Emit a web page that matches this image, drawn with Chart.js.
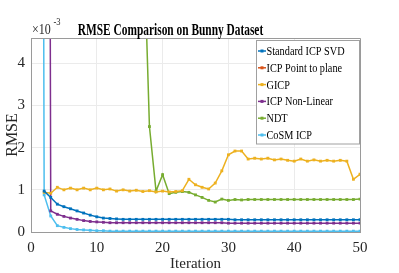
<!DOCTYPE html>
<html lang="en">
<head>
<meta charset="UTF-8">
<title>RMSE Comparison on Bunny Dataset</title>
<script src="https://cdn.jsdelivr.net/npm/chart.js@4.4.0/dist/chart.umd.min.js"></script>
<style>
  html, body { margin: 0; padding: 0; background: #fff; }
</style>
</head>
<body>
<canvas id="rmseChart" width="399" height="273"></canvas>

<script>
// RMSE values in units of 1e-3, iteration 1..50
const iterations = [1,2,3,4,5,6,7,8,9,10,11,12,13,14,15,16,17,18,19,20,21,22,23,24,25,
                    26,27,28,29,30,31,32,33,34,35,36,37,38,39,40,41,42,43,44,45,46,47,48,49,50];

const icpSvd = [null,0.97,0.82,0.66,0.60,0.55,0.50,0.45,0.40,0.36,0.33,0.32,0.31,0.30,0.30,0.30,0.30,0.30,0.30,0.30,0.30,0.30,0.30,0.30,0.30,
                0.30,0.30,0.30,0.30,0.30,0.29,0.29,0.29,0.29,0.29,0.29,0.29,0.29,0.29,0.29,0.29,0.29,0.29,0.29,0.29,0.29,0.29,0.29,0.29,0.29];
// point-to-plane series is not visible in the figure
const icpPlane = [];
const gicp = [null,0.94,0.92,1.06,1.00,1.04,1.00,1.04,1.00,1.04,1.00,1.02,0.97,1.00,0.97,0.99,0.96,0.98,0.95,0.97,0.95,0.96,0.98,1.25,1.12,
              1.06,1.02,1.16,1.45,1.83,1.92,1.92,1.73,1.75,1.73,1.75,1.71,1.73,1.70,1.68,1.73,1.68,1.71,1.68,1.70,1.68,1.70,1.68,1.25,1.37];
const icpNonLinear = [null,60,0.50,0.42,0.37,0.33,0.30,0.27,0.25,0.24,0.23,0.22,0.22,0.22,0.22,0.22,0.22,0.22,0.22,0.22,0.22,0.22,0.22,0.22,0.22,
                      0.22,0.22,0.22,0.22,0.21,0.21,0.21,0.21,0.21,0.21,0.21,0.21,0.21,0.21,0.21,0.21,0.21,0.21,0.21,0.21,0.21,0.21,0.21,0.21,0.21];
const ndt = [null,null,null,null,null,null,null,null,null,null,null,null,null,null,null,null,7.6,2.50,0.97,1.36,0.91,0.94,0.96,0.94,0.88,
             0.82,0.75,0.71,0.78,0.75,0.77,0.76,0.77,0.77,0.77,0.77,0.77,0.77,0.77,0.77,0.77,0.77,0.77,0.77,0.77,0.77,0.77,0.77,0.77,0.78];
const cosmIcp = [60,0.88,0.38,0.15,0.11,0.08,0.06,0.05,0.04,0.03,0.03,0.02,0.02,0.02,0.02,0.02,0.02,0.02,0.02,0.02,0.02,0.02,0.02,0.02,0.02,
                 0.02,0.02,0.02,0.02,0.02,0.02,0.02,0.02,0.02,0.02,0.02,0.02,0.02,0.02,0.02,0.02,0.02,0.02,0.02,0.02,0.02,0.02,0.02,0.02,0.02];

const xTicks = [0, 10, 20, 30, 40, 50];
const yTicks = [0, 1, 2, 3, 4];

const serif = "'Liberation Serif', 'Times New Roman', serif";

function pts(vals) {
  return iterations.map((it, i) => ({x: it, y: vals[i] === undefined ? null : vals[i]}));
}

function series(label, vals, color) {
  return {
    label: label, data: pts(vals), borderColor: color, backgroundColor: color,
    borderWidth: 1.5, pointStyle: 'rect', pointRadius: 2, pointBorderWidth: 0,
    fill: false, tension: 0, spanGaps: false
  };
}

// squeezed text, like the narrow glyphs in the figure
function squeezed(ctx, text, x, y, sx, align) {
  const w = ctx.measureText(text).width * sx;
  let x0 = x;
  if (align === 'center') x0 = x - w / 2;
  if (align === 'right') x0 = x - w;
  ctx.save();
  ctx.translate(x0, y);
  ctx.scale(sx, 1);
  ctx.textAlign = 'left';
  ctx.fillText(text, 0, 0);
  ctx.restore();
}

const decorations = {
  id: 'decorations',
  afterDraw(chart) {
    const ctx = chart.ctx;
    const a = chart.chartArea;
    ctx.save();
    // box top and right
    ctx.strokeStyle = '#9a9a9a';
    ctx.lineWidth = 1;
    ctx.beginPath();
    ctx.moveTo(a.left, a.top + 0.5);
    ctx.lineTo(a.right + 0.5, a.top + 0.5);
    ctx.lineTo(a.right + 0.5, a.bottom);
    ctx.stroke();

    // title
    ctx.fillStyle = '#000';
    ctx.textBaseline = 'alphabetic';
    ctx.font = 'bold 17px ' + serif;
    squeezed(ctx, 'RMSE Comparison on Bunny Dataset', 170.5, 35, 0.67, 'center');

    // exponent
    ctx.fillStyle = '#262626';
    ctx.font = '15px ' + serif;
    squeezed(ctx, '\u00d710', 32, 33.5, 0.8, 'left');
    ctx.font = '10px ' + serif;
    squeezed(ctx, '-3', 53.5, 25, 0.85, 'left');

    // legend
    const bx = 256, by = 40.5, bw = 103, bh = 103.5, rowH = 16.8;
    ctx.fillStyle = '#fff';
    ctx.fillRect(bx, by, bw, bh);
    ctx.strokeStyle = '#a0a0a0';
    ctx.strokeRect(bx + 0.5, by, bw, bh);
    ctx.font = '13px ' + serif;
    ctx.textBaseline = 'middle';
    chart.data.datasets.forEach((ds, i) => {
      const yy = by + 10.5 + i * rowH;
      ctx.strokeStyle = ds.borderColor;
      ctx.lineWidth = 1.5;
      ctx.beginPath();
      ctx.moveTo(bx + 2, yy);
      ctx.lineTo(bx + 10, yy);
      ctx.stroke();
      ctx.fillStyle = ds.borderColor;
      ctx.fillRect(bx + 4.5, yy - 1.5, 3, 3);
      ctx.fillStyle = '#000';
      squeezed(ctx, ds.label, bx + 10.5, yy + 0.5, 0.79, 'left');
    });
    ctx.restore();
  }
};

const rmseChart = new Chart(document.getElementById('rmseChart'), {
  type: 'line',
  data: {
    datasets: [
      series('Standard ICP SVD', icpSvd, '#0072BD'),
      series('ICP Point to plane', icpPlane, '#D95319'),
      series('GICP', gicp, '#EDB120'),
      series('ICP Non-Linear', icpNonLinear, '#7E2F8E'),
      series('NDT', ndt, '#77AC30'),
      series('CoSM ICP', cosmIcp, '#4DBEEE')
    ]
  },
  options: {
    responsive: false,
    animation: false,
    layout: {padding: {top: 38, right: 39, left: 0, bottom: 0}},
    plugins: {legend: {display: false}, title: {display: false}, tooltip: {enabled: false}},
    scales: {
      x: {
        type: 'linear', min: 0, max: 50,
        afterBuildTicks: s => { s.ticks = xTicks.map(v => ({value: v})); },
        afterFit: s => { s.height = 41; },
        ticks: {color: '#262626', font: {family: serif, size: 15, lineHeight: 1.2}, padding: 7, maxRotation: 0},
        grid: {color: '#ebebeb', drawTicks: false},
        border: {color: '#9a9a9a'},
        title: {display: true, text: 'Iteration', color: '#262626',
                font: {family: serif, size: 15, lineHeight: 1.2}, padding: {bottom: 0, top: 0}}
      },
      y: {
        min: 0, max: 4.6,
        afterBuildTicks: s => { s.ticks = yTicks.map(v => ({value: v})); },
        afterFit: s => { s.width = 31; },
        ticks: {color: '#262626', font: {family: serif, size: 15}, padding: 6},
        grid: {color: '#ebebeb', drawTicks: false},
        border: {color: '#9a9a9a'},
        title: {display: true, text: 'RMSE', color: '#262626',
                font: {family: serif, size: 16, lineHeight: 1.2}, padding: {top: 3, bottom: 0}}
      }
    }
  },
  plugins: [decorations]
});
</script>
</body>
</html>
